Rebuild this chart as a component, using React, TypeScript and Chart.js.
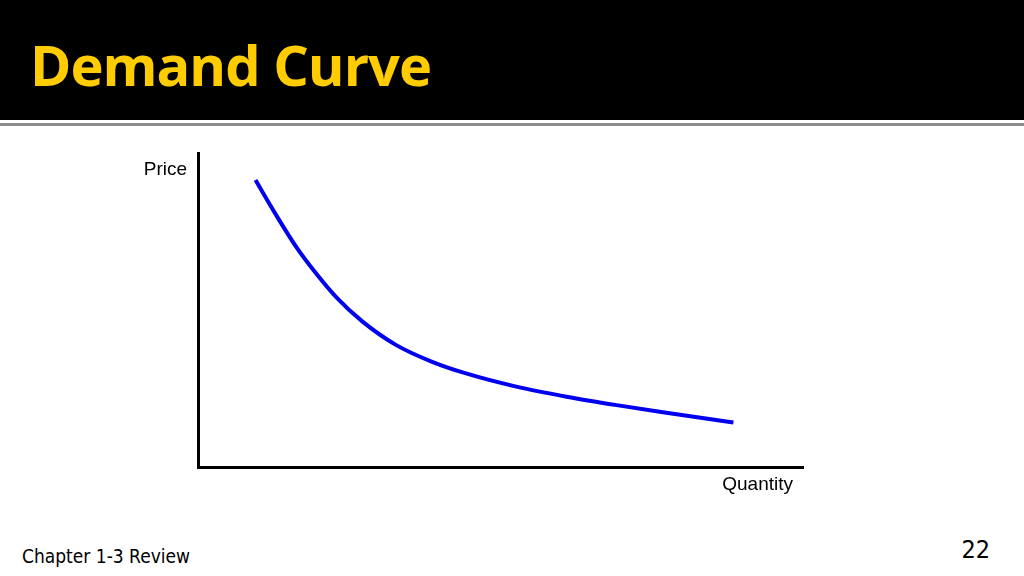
import React, { useEffect, useRef } from "react";
import Chart from "chart.js/auto";

// curve, both axes on a 0-100 scale
const quantity = [9.5, 12.9, 16.2, 19.5, 22.8, 27.2, 32.7, 38.7, 44.3, 52.6, 60.9, 69.2, 77.4, 88.5];
const price = [91.4, 80.3, 70.2, 61.7, 54.2, 46.3, 38.9, 33.5, 29.8, 25.6, 22.4, 19.7, 17.3, 14.2];

const yLabel = "Price";
const xLabel = "Quantity";

const axisLabels = {
  id: "axisLabels",
  afterDraw(chart: Chart) {
    const { ctx, chartArea } = chart;
    ctx.save();
    ctx.fillStyle = "#000";
    ctx.font = "19px 'Liberation Sans', Arial, sans-serif";
    ctx.textAlign = "right";
    ctx.textBaseline = "middle";
    ctx.fillText(yLabel, chartArea.left - 11, chartArea.top + 17);
    ctx.fillText(xLabel, chartArea.right - 10, chartArea.bottom + 18);
    ctx.restore();
  },
};

const DemandChart: React.FC = () => {
  const canvasRef = useRef<HTMLCanvasElement | null>(null);

  useEffect(() => {
    if (!canvasRef.current) return;
    const ctx = canvasRef.current.getContext("2d");
    if (!ctx) return;

    const points = quantity.map((q, i) => ({ x: q, y: price[i] }));

    const chart = new Chart(ctx, {
      type: "line",
      data: {
        datasets: [
          {
            label: "Demand",
            data: points,
            borderColor: "#0000ee",
            borderWidth: 4,
            pointRadius: 0,
            tension: 0.4,
            cubicInterpolationMode: "monotone",
            fill: false,
          },
        ],
      },
      options: {
        animation: false,
        responsive: false,
        layout: { padding: { left: 68, top: 13, right: 17, bottom: 38 } },
        scales: {
          x: {
            type: "linear",
            min: 0,
            max: 100,
            ticks: { display: false },
            grid: { display: false, drawTicks: false },
            border: { display: true, color: "#000", width: 3 },
          },
          y: {
            min: 0,
            max: 100,
            ticks: { display: false },
            grid: { display: false, drawTicks: false },
            border: { display: true, color: "#000", width: 3 },
          },
        },
        plugins: {
          legend: { display: false },
          tooltip: { enabled: false },
        },
      },
      plugins: [axisLabels],
    });

    return () => {
      chart.destroy();
    };
  }, []);

  return (
    <canvas
      ref={canvasRef}
      width={690}
      height={365}
      style={{ position: "absolute", left: 130, top: 140, width: 690, height: 365 }}
    ></canvas>
  );
};

export default function App() {
  return (
    <div
      style={{
        position: "fixed",
        left: 0,
        top: 0,
        width: 1024,
        height: 576,
        background: "#fff",
        overflow: "hidden",
      }}
    >
      <div style={{ position: "absolute", left: 0, top: 0, width: 1024, height: 120, background: "#000" }}></div>
      <div style={{ position: "absolute", left: 0, top: 123, width: 1024, height: 3, background: "#8c8c8c" }}></div>
      <div
        style={{
          position: "absolute",
          left: 30,
          top: 26,
          color: "#ffcc00",
          fontFamily: "'Open Sans', sans-serif",
          fontWeight: 700,
          fontSize: 56,
          lineHeight: "76px",
          letterSpacing: -1,
        }}
      >
        Demand Curve
      </div>
      <DemandChart />
      <div
        style={{
          position: "absolute",
          left: 22,
          top: 544,
          fontFamily: "'DejaVu Sans Condensed', 'DejaVu Sans', sans-serif",
          fontSize: 19,
          lineHeight: "24px",
          color: "#000",
        }}
      >
        Chapter 1-3 Review
      </div>
      <div
        style={{
          position: "absolute",
          right: 34,
          top: 534,
          fontFamily: "'DejaVu Sans Condensed', 'DejaVu Sans', sans-serif",
          fontSize: 25,
          lineHeight: "32px",
          color: "#000",
        }}
      >
        22
      </div>
    </div>
  );
}
